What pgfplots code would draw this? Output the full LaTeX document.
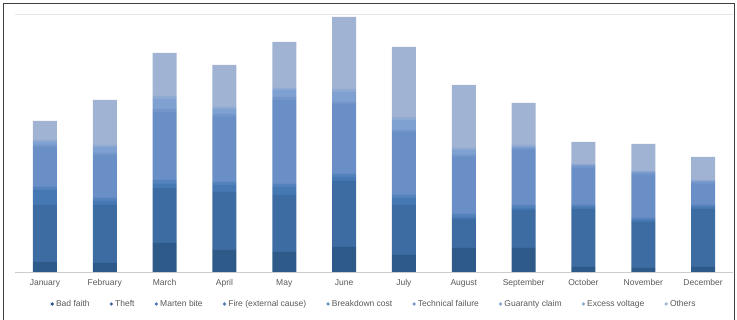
\documentclass[border=0pt]{standalone}
\usepackage{fontspec}
\setmainfont{Liberation Sans}
\usepackage{pgfplots}
\pgfplotsset{compat=1.18}
\usepackage{pgfplotstable}

\pgfplotstableread{
x bad theft marten fire breakdown tech guaranty excess others
0  10 57 15 3 40 2 3  2 19
1  9  58 4  3 43 2 6  2 45
2  29 55 4  4 68 3 10 3 43
3  22 58 7  3 65 3 5  2 42
4  20 57 8  3 84 3 7  2 46
5  25 66 4  3 70 2 10 3 72
6  17 50 7  3 63 2 10 3 70
7  24 29 2  3 57 2 5  2 63
8  24 38 2  3 55 2 1  2 42
9  5  58 2  2 37 2 1  1 22
10 4  46 2  2 43 2 1  1 27
11 5  58 2  2 21 2 1  1 23
}\data

\definecolor{c1}{HTML}{2E5A8A}
\definecolor{c2}{HTML}{3D6CA2}
\definecolor{c3}{HTML}{4678B4}
\definecolor{c4}{HTML}{5482BC}
\definecolor{c5}{HTML}{6A8EC6}
\definecolor{c6}{HTML}{7396CA}
\definecolor{c7}{HTML}{7FA1D2}
\definecolor{c8}{HTML}{8FAAD3}
\definecolor{c9}{HTML}{A1B3D3}
\definecolor{txt}{HTML}{595959}

\begin{document}
\begin{tikzpicture}[x=1pt,y=1pt]
\useasboundingbox (0,0) rectangle (737,320);
\draw[black!75, line width=1pt] (3,0) -- (3,316) -- (734,316) -- (734,0);
\begin{axis}[
  at={(15pt,48pt)}, anchor=south west,
  scale only axis, width=718pt, height=258pt,
  xmin=-0.5, xmax=11.5, ymin=0, ymax=258,
  ybar stacked, bar width=24pt,
  axis x line*=bottom, axis y line=none,
  x axis line style={draw=black!20, line width=0.6pt, -},
  xtick={0,...,11}, major tick length=0pt,
  xticklabels={January,February,March,April,May,June,July,August,September,October,November,December},
  xticklabel style={font=\fontsize{8.5}{10}\selectfont, text=txt, yshift=-4pt},
  legend columns=9,
  legend style={at={(0.5,-0.124)}, anchor=center, draw=none, fill=none,
    font=\fontsize{8.5}{10}\selectfont, text=txt,
    /tikz/every even column/.append style={column sep=18pt}},
  legend image code/.code={\fill[#1] (0pt,0pt) circle (1.8pt);},
  clip=false,
]
\draw[black!10, line width=0.6pt] (axis cs:-0.5,258) -- (axis cs:11.5,258);
\addplot[fill=c1, draw=none] table[x=x, y=bad] {\data};
\addlegendentry{Bad faith}
\addplot[fill=c2, draw=none] table[x=x, y=theft] {\data};
\addlegendentry{Theft}
\addplot[fill=c3, draw=none] table[x=x, y=marten] {\data};
\addlegendentry{Marten bite}
\addplot[fill=c4, draw=none] table[x=x, y=fire] {\data};
\addlegendentry{Fire (external cause)}
\addplot[fill=c5, draw=none] table[x=x, y=breakdown] {\data};
\addlegendentry{Breakdown cost}
\addplot[fill=c6, draw=none] table[x=x, y=tech] {\data};
\addlegendentry{Technical failure}
\addplot[fill=c7, draw=none] table[x=x, y=guaranty] {\data};
\addlegendentry{Guaranty claim}
\addplot[fill=c8, draw=none] table[x=x, y=excess] {\data};
\addlegendentry{Excess voltage}
\addplot[fill=c9, draw=none] table[x=x, y=others] {\data};
\addlegendentry{Others}
\end{axis}
\end{tikzpicture}
\end{document}
